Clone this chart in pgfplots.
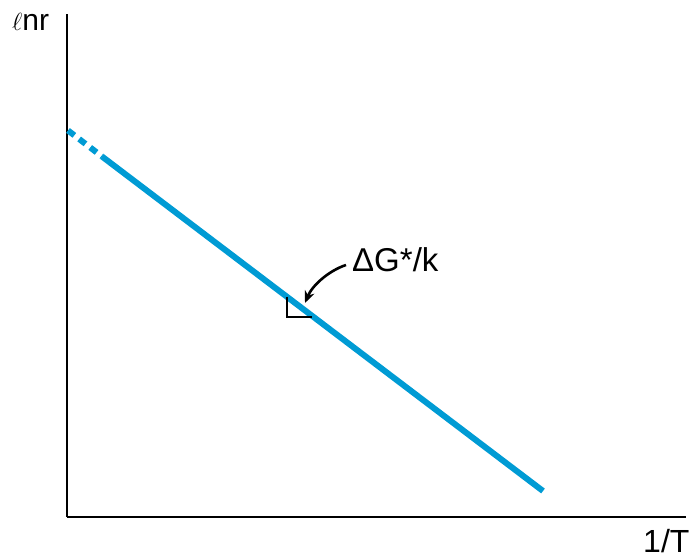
\documentclass[border=0pt]{standalone}
\usepackage{pgfplots}
\pgfplotsset{compat=1.18}
\usepackage{fontspec}
\setmainfont{Liberation Sans}
\usetikzlibrary{arrows.meta}
\definecolor{lineblue}{RGB}{0,155,212}
\begin{document}
\begin{tikzpicture}
\begin{axis}[
  scale only axis,
  width=619bp, height=503bp,
  xmin=67, xmax=686, ymin=41, ymax=544,
  axis x line=bottom, axis y line=left,
  axis line style={-, line width=2.6bp, black},
  xtick=\empty, ytick=\empty,
  clip=false,
]
% invisible frame giving the picture the reference's size
\path (axis cs:0,0) rectangle (axis cs:693,558);
% dotted extrapolation
\addplot[lineblue, line width=6bp, dash pattern=on 8bp off 6bp, line cap=butt] coordinates {(68,427.5) (102,401.5)};
% measured line
\addplot[lineblue, line width=6bp, line cap=butt] coordinates {(102,401.5) (543,67)};
% slope triangle
\draw[black, line width=2.4bp] (axis cs:287,261) -- (axis cs:287,241) -- (axis cs:312,241);
% arrow and annotation
\draw[black, line width=2.6bp, -{Stealth[length=12bp,width=10bp]}]
  (axis cs:346,293) .. controls (axis cs:328,287) and (axis cs:312,272) .. (axis cs:305,255);
\node[anchor=base west, inner sep=0pt, font=\fontsize{33bp}{36bp}\selectfont] at (axis cs:352,286) {ΔG*/k};
\node[anchor=base west, inner sep=0pt, font=\fontsize{32bp}{36bp}\selectfont] at (axis cs:643,6) {1/T};
\node[anchor=base west, inner sep=0pt, font=\fontsize{30bp}{33bp}\selectfont] at (axis cs:12,527) {\fontsize{34bp}{36bp}\selectfont$\ell$\fontsize{30bp}{33bp}\selectfont nr};
\end{axis}
\end{tikzpicture}
\end{document}
